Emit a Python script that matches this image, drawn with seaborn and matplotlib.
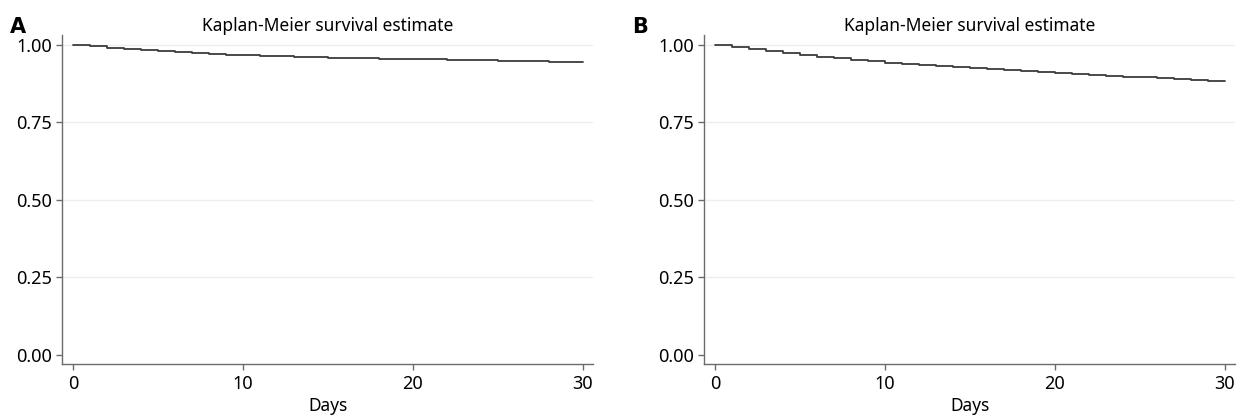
import numpy as np
import pandas as pd
import matplotlib
matplotlib.use("Agg")
import matplotlib.pyplot as plt
import seaborn as sns

# ---- data ----
days = list(range(0, 31))
survival_a = [1.000, 0.996, 0.991, 0.987, 0.983, 0.979, 0.976, 0.973, 0.971, 0.969,
              0.967, 0.965, 0.963, 0.962, 0.960, 0.959, 0.958, 0.957, 0.956, 0.955,
              0.954, 0.953, 0.952, 0.951, 0.950, 0.949, 0.948, 0.947, 0.946, 0.945,
              0.944]
survival_b = [1.000, 0.993, 0.986, 0.979, 0.973, 0.967, 0.962, 0.957, 0.952, 0.947,
              0.943, 0.939, 0.935, 0.931, 0.928, 0.925, 0.922, 0.919, 0.916, 0.913,
              0.910, 0.907, 0.904, 0.901, 0.898, 0.895, 0.893, 0.890, 0.888, 0.885,
              0.883]
panel_labels = ["A", "B"]
title_text = "Kaplan-Meier survival estimate"
x_label = "Days"
x_ticks = [0, 10, 20, 30]
y_ticks = [0.00, 0.25, 0.50, 0.75, 1.00]

sns.set_theme(style="white")
plt.rcParams['font.family'] = ['Noto Sans', 'DejaVu Sans']

W, H = 1242, 418
fig = plt.figure(figsize=(W / 100, H / 100), dpi=100)

axis_col = "#6b6b6b"
line_col = "#3c3c3c"
grid_col = "#eeeeee"
text_col = "#000000"

lefts = [62, 704]
label_x = [10, 632]
ax_w = 531
ax_bottom = 364
ax_top = 35

for i, (lab, surv) in enumerate(zip(panel_labels, [survival_a, survival_b])):
    ax = fig.add_axes([lefts[i] / W, (H - ax_bottom) / H, ax_w / W, (ax_bottom - ax_top) / H])
    df = pd.DataFrame({"Days": days, "Survival": surv})
    sns.lineplot(data=df, x="Days", y="Survival", drawstyle="steps-post",
                 color=line_col, linewidth=1.3, ax=ax)
    ax.set_xlim(-0.65, 30.6)
    ax.set_ylim(-0.029, 1.032)
    ax.set_xticks(x_ticks)
    ax.set_yticks(y_ticks)
    ax.set_yticklabels([f"{v:.2f}" for v in y_ticks])
    ax.set_xlabel(x_label, fontsize=12.5, labelpad=3, color=text_col)
    ax.set_ylabel("")
    ax.set_title(title_text, fontsize=12.5, pad=3, color=text_col)
    for s in ["top", "right"]:
        ax.spines[s].set_visible(False)
    for s in ["left", "bottom"]:
        ax.spines[s].set_color(axis_col)
        ax.spines[s].set_linewidth(1.0)
    ax.tick_params(axis="both", which="major", length=4, width=1.0, color=axis_col,
                   labelsize=13, labelcolor=text_col, left=True, bottom=True)
    ax.tick_params(axis="y", pad=3)
    ax.tick_params(axis="x", pad=4)
    ax.yaxis.grid(True, color=grid_col, linewidth=1.0)
    ax.xaxis.grid(False)
    ax.get_ygridlines()[0].set_visible(False)
    ax.set_axisbelow(True)
    fig.text(label_x[i] / W, (H - 33) / H, lab, fontsize=15, fontweight="bold",
             family=["DejaVu Sans"], color="#000000", ha="left", va="baseline")

fig.savefig("out.png", dpi=100, facecolor="white")
